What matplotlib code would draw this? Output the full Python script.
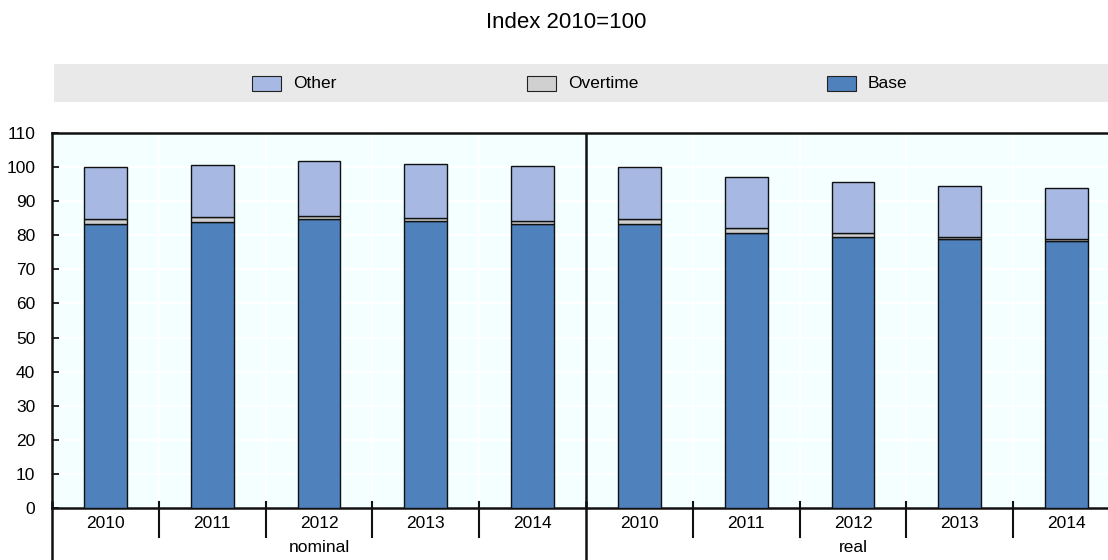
import matplotlib
matplotlib.use('Agg')
import matplotlib.pyplot as plt
from matplotlib.patches import Rectangle

plt.rcParams['font.family'] = ['Liberation Sans Narrow', 'Liberation Sans', 'DejaVu Sans']

# Wage components, index 2010=100
years = ['2010', '2011', '2012', '2013', '2014']
groups = ['nominal', 'real']
base = [83.4, 84.0, 84.7, 84.1, 83.2,
        83.4, 80.8, 79.6, 78.8, 78.2]
overtime = [1.5, 1.4, 1.1, 0.9, 1.0,
            1.5, 1.4, 1.0, 0.8, 0.8]
other = [15.1, 15.3, 16.0, 15.9, 16.0,
         15.1, 14.9, 14.9, 15.0, 14.9]

series = [('Other', '#a7b9e3'), ('Overtime', '#d0d0d0'), ('Base', '#4f81bd')]

W, H = 1108, 560
fig = plt.figure(figsize=(W / 100, H / 100), dpi=100)

fig.text(566 / W, 1 - 22 / H, 'Index 2010=100', ha='center', va='center',
         fontsize=16, family=['Liberation Sans', 'DejaVu Sans'])

# legend band
lax = fig.add_axes([54 / W, 1 - 102 / H, (W - 54) / W, 38 / H])
lax.set_facecolor('#e9e9e9')
lax.set_xlim(54, W)
lax.set_ylim(0, 38)
lax.set_xticks([])
lax.set_yticks([])
for s in lax.spines.values():
    s.set_visible(False)
legend_x = [252, 527, 827]
for (name, col), x0 in zip(series, legend_x):
    lax.add_patch(Rectangle((x0, 11.5), 29, 15, facecolor=col, edgecolor='#222222', lw=0.8))
    lax.text(x0 + 41, 19, name, va='center', ha='left', fontsize=12.5)

# main plot, right edge runs past the figure border
ax = fig.add_axes([52 / W, 52 / H, 1068 / W, 375 / H])
ax.set_facecolor('#f4ffff')
x = list(range(len(base)))
bw = 0.40
bottom2 = [b + o for b, o in zip(base, overtime)]
ax.bar(x, base, bw, color='#4f81bd', edgecolor='#111111', lw=1.0, zorder=3)
ax.bar(x, overtime, bw, bottom=base, color='#d0d0d0', edgecolor='#111111', lw=1.0, zorder=3)
ax.bar(x, other, bw, bottom=bottom2, color='#a7b9e3', edgecolor='#111111', lw=1.0, zorder=3)

ax.set_xlim(-0.5, len(base) - 0.5)
ax.set_ylim(0, 110)
ax.set_yticks(range(0, 111, 10))
ax.tick_params(axis='y', direction='in', length=5, width=1.2, labelsize=12.5, pad=12)
ax.set_xticks([i + 0.5 for i in range(len(base) - 1)])
ax.set_xticklabels([])
ax.tick_params(axis='x', length=0)
ax.grid(axis='both', color='white', lw=1.5, zorder=0)
for side in ['left', 'bottom', 'top']:
    ax.spines[side].set_linewidth(1.8)
    ax.spines[side].set_color('#111111')
ax.spines['right'].set_visible(False)
ax.axvline(4.5, color='#111111', lw=1.8, zorder=4)

# category axis below the plot
trans = ax.get_xaxis_transform()
px = 1 / 375  # one pixel in axes-fraction units
for i, yr in enumerate(years * len(groups)):
    ax.text(i, -16 * px, yr, transform=trans, ha='center', va='center', fontsize=12.5)
for i in range(len(base) - 1):
    if i == 4:
        continue
    ax.plot([i + 0.5, i + 0.5], [6 * px, -29 * px], transform=trans, color='#111111',
            lw=1.5, clip_on=False)
for xb in [-0.5, 4.5]:
    ax.plot([xb, xb], [6 * px, -60 * px], transform=trans, color='#111111',
            lw=1.8, clip_on=False)
for g, name in enumerate(groups):
    ax.text(g * 5 + 2, -40 * px, name, transform=trans, ha='center', va='center', fontsize=12.5)

fig.savefig('out.png', dpi=100)
